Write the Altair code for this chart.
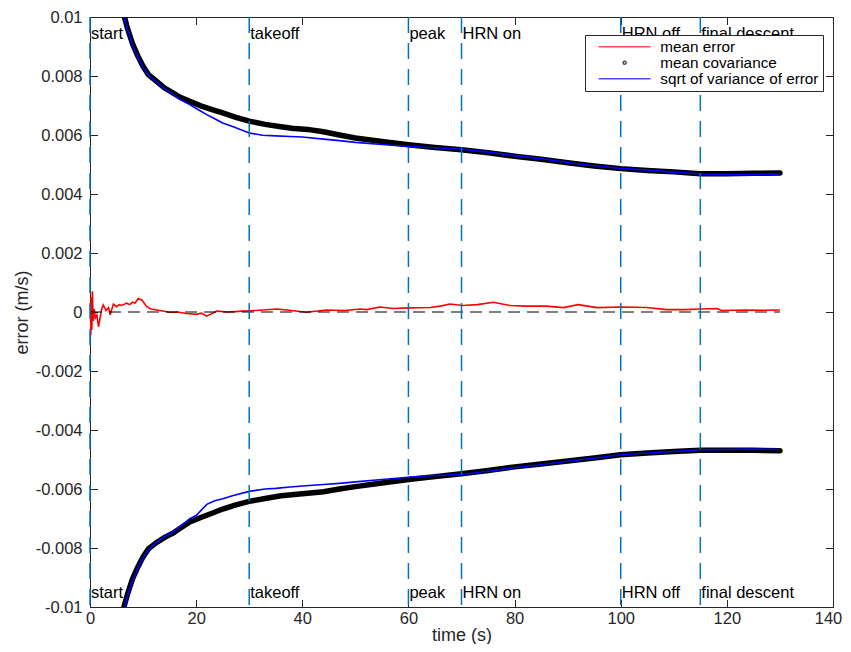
import altair as alt
import pandas as pd

FONT = "Liberation Sans"

# (time s, value in mm/s)
cov_upper = [(6.5, 10.0), (7, 9.65), (8, 9.10), (9, 8.68), (10, 8.33), (11, 8.05), (12.5, 7.83),
             (14, 7.60), (15.7, 7.42), (17, 7.28), (18.8, 7.14), (21, 6.98), (23, 6.86), (25, 6.75),
             (27.5, 6.60), (30, 6.47), (33, 6.36), (36, 6.28), (38, 6.23), (41, 6.19), (44, 6.11),
             (47, 6.00), (50, 5.90), (55, 5.78), (60, 5.67), (65, 5.58), (70, 5.50), (75, 5.40),
             (80, 5.28), (85, 5.18), (90, 5.06), (95, 4.95), (100, 4.86), (105, 4.80), (110, 4.75),
             (115, 4.69), (120, 4.69), (125, 4.70), (130, 4.71)]
sd_upper = [(6.5, 10.0), (7, 9.62), (8, 9.05), (9, 8.64), (10, 8.30), (11, 8.03), (12.5, 7.80),
            (14, 7.58), (15.7, 7.38), (17, 7.20), (18.8, 7.03), (20, 6.90), (22, 6.69), (23.5, 6.55),
            (25, 6.41), (27, 6.28), (30, 6.07), (32.5, 5.99), (35, 5.97), (37.7, 5.95), (40, 5.93),
            (44, 5.86), (47, 5.81), (50, 5.75), (55, 5.68), (60, 5.61), (65, 5.57), (70, 5.52),
            (75, 5.42), (80, 5.30), (85, 5.20), (90, 5.07), (95, 4.96), (100, 4.87), (105, 4.81),
            (110, 4.74), (115, 4.68), (120, 4.66), (125, 4.66), (130, 4.68)]
cov_lower = [(6.4, -10.0), (7, -9.60), (8, -9.05), (9, -8.65), (10, -8.30), (11, -8.03), (12.5, -7.82),
             (14, -7.65), (15.7, -7.49), (17, -7.33), (18.8, -7.12), (21, -6.96), (23, -6.82),
             (25, -6.68), (27.5, -6.54), (30, -6.42), (33, -6.32), (36, -6.23), (40, -6.16),
             (44, -6.09), (47, -6.00), (50, -5.92), (55, -5.80), (60, -5.68), (65, -5.58),
             (70, -5.48), (75, -5.37), (80, -5.25), (85, -5.15), (90, -5.05), (95, -4.95),
             (100, -4.84), (105, -4.78), (110, -4.73), (115, -4.69), (120, -4.69), (125, -4.69),
             (130, -4.70)]
sd_lower = [(6.6, -10.0), (7, -9.68), (8, -9.12), (9, -8.70), (10, -8.34), (11, -8.06), (12.5, -7.82),
            (14, -7.62), (15.7, -7.45), (17, -7.27), (18.8, -7.01), (20, -6.90), (22, -6.52),
            (23.5, -6.40), (25, -6.33), (27, -6.22), (30, -6.08), (33, -6.00), (35, -5.98),
            (37.7, -5.93), (40, -5.90), (44, -5.85), (47, -5.81), (50, -5.76), (55, -5.68),
            (60, -5.60), (65, -5.54), (70, -5.51), (75, -5.40), (80, -5.28), (85, -5.18),
            (90, -5.06), (95, -4.96), (100, -4.84), (105, -4.78), (110, -4.73), (115, -4.67),
            (120, -4.66), (125, -4.65), (130, -4.66)]
mean_err = [(0.05, 0.2), (0.15, -0.8), (0.25, 0.5), (0.35, -0.6), (0.45, 0.7), (0.6, -0.3),
            (0.8, 0.1), (1.0, -0.2), (1.3, -0.1), (1.6, -0.5), (1.9, -0.2), (2.2, 0.1), (2.5, 0.24),
            (3.0, 0.05), (3.5, 0.15), (3.8, -0.1), (4.4, 0.27), (5.0, 0.18), (5.5, 0.25), (6.0, 0.22),
            (6.9, 0.3), (7.5, 0.25), (8.0, 0.33), (8.5, 0.3), (9.1, 0.46), (9.8, 0.4), (10.7, 0.18),
            (11.5, 0.1), (13.2, 0.05), (15.0, -0.01), (16.5, 0.0), (18.2, -0.05), (20.0, -0.08),
            (21.0, -0.04), (22.0, -0.14), (23.9, 0.03), (26.0, 0.0), (28.0, 0.02), (30.1, 0.04),
            (32.0, 0.06), (35.2, 0.1), (38.0, 0.05), (40.8, -0.01), (44.6, 0.07), (48.0, 0.05),
            (50.9, 0.1), (52.1, 0.08), (54.6, 0.17), (57.0, 0.12), (60.0, 0.14), (64.1, 0.15),
            (66.0, 0.2), (67.8, 0.27), (70.2, 0.22), (73.0, 0.25), (76.0, 0.33), (79.2, 0.22),
            (82.0, 0.2), (86.0, 0.2), (89.2, 0.15), (92.0, 0.25), (95.5, 0.15), (100.2, 0.17),
            (104.9, 0.15), (108.7, 0.08), (112.0, 0.08), (115.0, 0.1), (118.1, 0.12), (119.0, 0.05),
            (121.0, 0.06), (123.7, 0.07), (127.0, 0.06), (130.0, 0.07)]

event_t = [0, 30, 60, 70, 100, 115]
event_names = ["start", "takeoff", "peak", "HRN on", "HRN off", "final descent"]
x_ticks = [0, 20, 40, 60, 80, 100, 120, 140]
y_ticks = [-0.01, -0.008, -0.006, -0.004, -0.002, 0, 0.002, 0.004, 0.006, 0.008, 0.01]
series_names = ["mean error", "mean covariance", "sqrt of variance of error"]
series_colors = ["#ff0000", "#000000", "#0000ff"]
LINE_SYM = "M0.667,0L18,0"
DOT_SYM = "M8.83,0A0.5,0.5,0,1,1,9.83,0A0.5,0.5,0,1,1,8.83,0"
series_shapes = [LINE_SYM, DOT_SYM, LINE_SYM]


def frame(pairs, branch):
    return pd.DataFrame({"t": [p[0] for p in pairs],
                         "v": [p[1] / 1000.0 for p in pairs],
                         "branch": branch})


cov_df = pd.concat([frame(cov_upper, "upper"), frame(cov_lower, "lower")])
sd_df = pd.concat([frame(sd_upper, "upper"), frame(sd_lower, "lower")])
err_df = frame(mean_err, "mean")
zero_df = pd.DataFrame({"t0": [0], "t1": [130], "v": [0.0]})
ev_df = pd.DataFrame({"t": event_t, "name": event_names,
                      "ytop": [0.00926] * len(event_t), "ybot": [-0.00969] * len(event_t)})
leg_df = pd.DataFrame({"series": series_names, "t": [130, 130, 130],
                       "v": [0.00007, 0.00471, 0.00468]})

XS = alt.Scale(domain=[0, 140], nice=False, zero=False)
YS = alt.Scale(domain=[-0.01, 0.01], nice=False, zero=False)
AXC = "#262626"
TICK = 7.5

y_label_expr = "datum.value == 0 ? '0' : replace(format(datum.value, '.3~f'), '\u2212', '-')"

bottom_axis = alt.Axis(values=x_ticks, orient="bottom", offset=-TICK, tickSize=TICK, domain=False,
                       grid=False, tickColor=AXC, tickWidth=1, labelColor=AXC, labelFont=FONT,
                       labelFontSize=16.5, labelPadding=3, labelFlush=False,
                       labelOffset={"condition": {"test": "datum.value == 140", "value": -5},
                                    "value": 0},
                       title="time (s)", titleFont=FONT, titleFontSize=18,
                       titleFontWeight="normal", titleColor=AXC, titlePadding=0, minExtent=0)
left_axis = alt.Axis(values=y_ticks, orient="left", offset=-TICK, tickSize=TICK, domain=False,
                     grid=False, tickColor=AXC, tickWidth=1, labelColor=AXC, labelFont=FONT,
                     labelFontSize=16.5, labelPadding=8, labelFlush=False, labelExpr=y_label_expr,
                     title="error (m/s)", titleFont=FONT, titleFontSize=18,
                     titleFontWeight="normal", titleColor=AXC, titlePadding=4, minExtent=0)
top_axis = alt.Axis(values=x_ticks, orient="top", offset=-TICK, tickSize=TICK, domain=False,
                    grid=False, tickColor=AXC, tickWidth=1, labels=False, title=None,
                    minExtent=0, maxExtent=0)
right_axis = alt.Axis(values=y_ticks, orient="right", offset=-TICK, tickSize=TICK, domain=False,
                      grid=False, tickColor=AXC, tickWidth=1, labels=False, title=None,
                      minExtent=0, maxExtent=0)


def X(field, axis=None):
    return alt.X(f"{field}:Q", scale=XS, axis=axis)


def Y(field, axis=None):
    return alt.Y(f"{field}:Q", scale=YS, axis=axis)


red = alt.Chart(err_df).mark_line(color="#ff0000", strokeWidth=1.6, clip=True).encode(
    x=X("t"), y=Y("v"))
black = alt.Chart(cov_df).mark_line(color="#000000", strokeWidth=5.5, clip=True,
                                    strokeCap="round").encode(
    x=X("t"), y=Y("v"), detail="branch:N")
blue = alt.Chart(sd_df).mark_line(color="#0000ff", strokeWidth=1.6, clip=True).encode(
    x=X("t"), y=Y("v"), detail="branch:N")
zero = alt.Chart(zero_df).mark_rule(color="#000000", strokeWidth=1.2, strokeDash=[12, 7]).encode(
    x=X("t0", bottom_axis), x2="t1", y=Y("v", left_axis))
frame_axes = alt.Chart(zero_df).mark_rule(opacity=0).encode(
    x=X("t0", top_axis), x2="t1", y=Y("v", right_axis))
events = alt.Chart(ev_df).mark_rule(color="#0072BD", strokeWidth=1.5, strokeDash=[16, 10]).encode(
    x=X("t"))
top_txt = alt.Chart(ev_df).mark_text(align="left", baseline="alphabetic", font=FONT,
                                     fontSize=16.5, color="#000000", dx=1).encode(
    x=X("t"), y=Y("ytop"), text="name:N")
bot_txt = alt.Chart(ev_df).mark_text(align="left", baseline="alphabetic", font=FONT,
                                     fontSize=16.5, color="#000000", dx=1).encode(
    x=X("t"), y=Y("ybot"), text="name:N")

legend = alt.Legend(title=None, orient="none", legendX=495, legendY=18, padding=4,
                    strokeColor=AXC, fillColor="white", labelFont=FONT, labelFontSize=15.3,
                    labelColor="#000000", symbolSize=36, symbolStrokeWidth=1.5,
                    labelOffset=56, rowPadding=0, symbolOffset=0, labelLimit=0)
carrier = alt.Chart(leg_df).mark_point(filled=False, size=0).encode(
    x=X("t"), y=Y("v"),
    color=alt.Color("series:N", scale=alt.Scale(domain=series_names, range=series_colors),
                    legend=legend, sort=series_names),
    shape=alt.Shape("series:N", scale=alt.Scale(domain=series_names, range=series_shapes),
                    legend=legend, sort=series_names))

chart = alt.layer(red, black, blue, zero, events, top_txt, bot_txt, carrier, frame_axes).resolve_axis(
    x="independent", y="independent"
).properties(
    width=743, height=590,
    autosize=alt.AutoSizeParams(type="none"),
    padding={"left": 82, "top": 9, "right": 10, "bottom": 37},
    background="white",
).configure_view(stroke=AXC, strokeWidth=1)

chart.save("out.html", embed_options={"renderer": "svg", "actions": False})
